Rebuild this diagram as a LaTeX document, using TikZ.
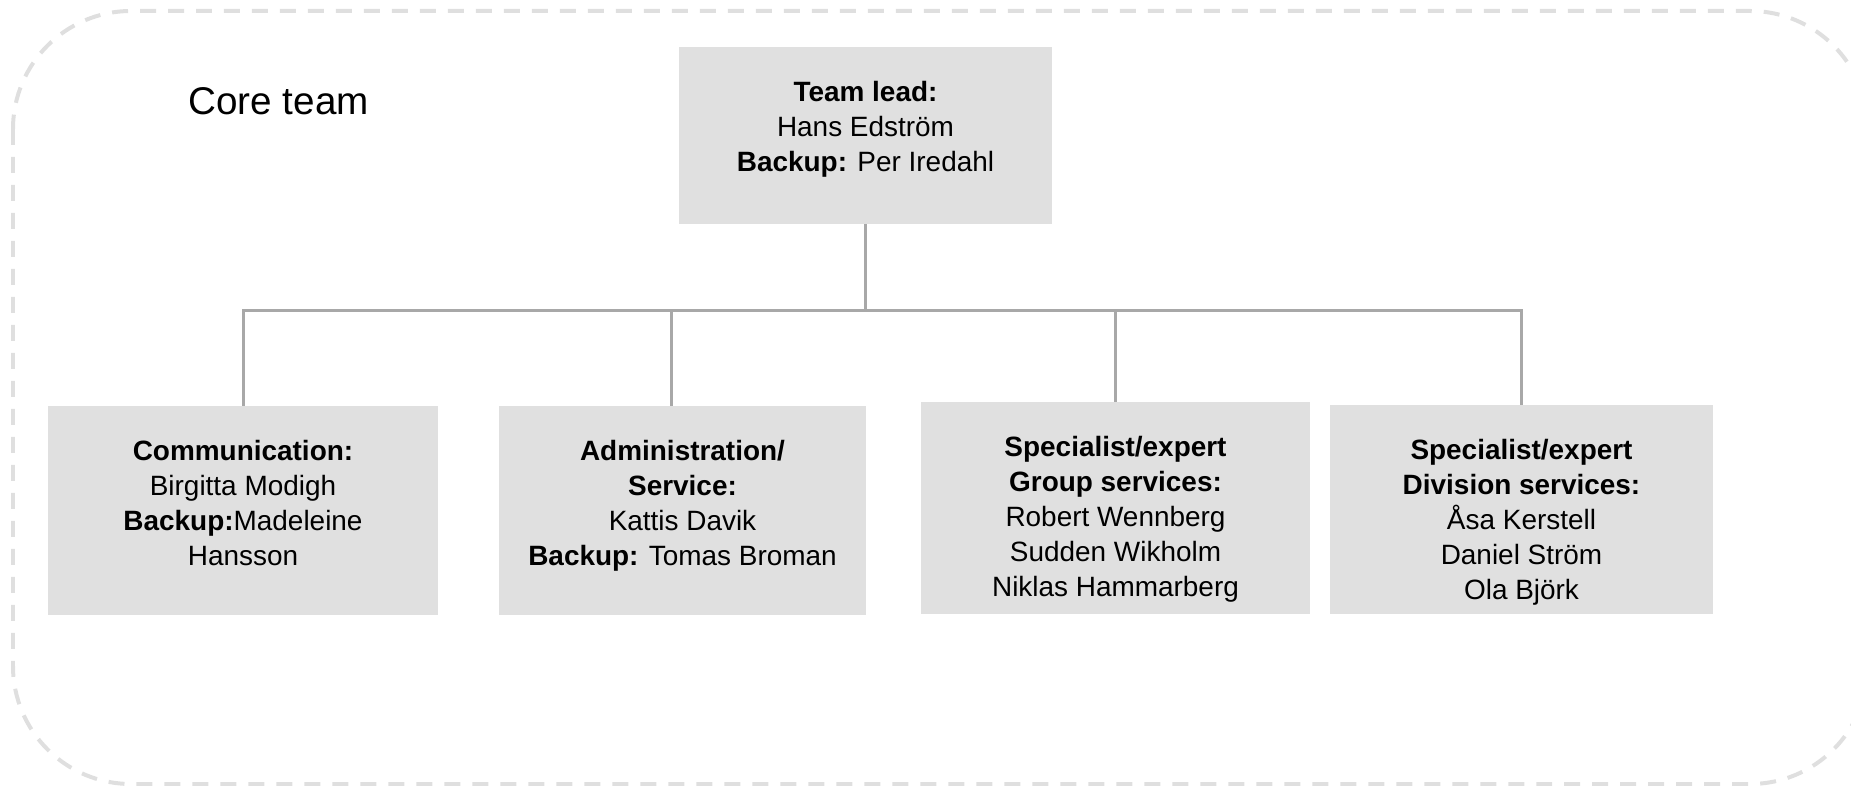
\documentclass[tikz,border=0pt]{standalone}
\usepackage{fontspec}
\setmainfont{Liberation Sans}
\usetikzlibrary{positioning}

\definecolor{boxgray}{HTML}{E0E0E0}
\definecolor{linegray}{HTML}{A8A8A8}
\definecolor{framegray}{HTML}{DFDFDF}

\begin{document}
\begin{tikzpicture}[x=0.02cm, y=-0.02cm]

    \useasboundingbox (0,0) rectangle (1851,786);

    % Estilos
    \tikzset{
        unit/.style={fill=boxgray, draw=none, inner sep=0pt},
        unittext/.style={align=center, inner sep=0pt,
            font=\fontsize{15.9}{19.9}\selectfont},
        link/.style={draw=linegray, line width=0.06cm}
    }

    % --------------------
    % Moldura
    % --------------------
    \draw[framegray, line width=0.08cm, dash pattern=on 0.32cm off 0.24cm,
        rounded corners=2.36cm] (13,11) rectangle (1868,784);

    \node[anchor=base west, inner sep=0pt, font=\fontsize{22}{26}\selectfont]
        (title) at (188,115) {Core team};

    % --------------------
    % Caixas
    % --------------------
    \node[unit, minimum width=7.46cm, minimum height=3.54cm] (lead) at (865.5,135.5) {};
    \node[unit, minimum width=7.80cm, minimum height=4.18cm] (comm) at (243,510.5) {};
    \node[unit, minimum width=7.34cm, minimum height=4.18cm] (admin) at (682.5,510.5) {};
    \node[unit, minimum width=7.78cm, minimum height=4.24cm] (group) at (1115.5,508) {};
    \node[unit, minimum width=7.66cm, minimum height=4.18cm] (division) at (1521.5,509.5) {};

    % Textos
    \node[unittext, below=0.69cm of lead.north] (leadtxt)
        {\textbf{Team lead:}\\ Hans Edström\\ \textbf{Backup:} Per Iredahl};
    \node[unittext, below=0.69cm of comm.north] (commtxt)
        {\textbf{Communication:}\\ Birgitta Modigh\\ \textbf{Backup:}Madeleine\\ Hansson};
    \node[unittext, below=0.69cm of admin.north] (admintxt)
        {\textbf{Administration/}\\ \textbf{Service:}\\ Kattis Davik\\ \textbf{Backup:} Tomas Broman};
    \node[unittext, below=0.69cm of group.north] (grouptxt)
        {\textbf{Specialist/expert}\\ \textbf{Group services:}\\ Robert Wennberg\\ Sudden Wikholm\\ Niklas Hammarberg};
    \node[unittext, below=0.69cm of division.north] (divisiontxt)
        {\textbf{Specialist/expert}\\ \textbf{Division services:}\\ Åsa Kerstell\\ Daniel Ström\\ Ola Björk};

    % --------------------
    % Ligações
    % --------------------
    \coordinate (bus) at (869,311);

    \draw[link] (lead.south) -- (lead.south |- bus);
    \draw[link] (comm.north) -- (comm.north |- bus) -- (division.north |- bus) -- (division.north);
    \draw[link] ([xshift=-0.23cm]admin.north) -- ([xshift=-0.23cm]admin.north |- bus);
    \draw[link] (group.north) -- (group.north |- bus);

\end{tikzpicture}
\end{document}
